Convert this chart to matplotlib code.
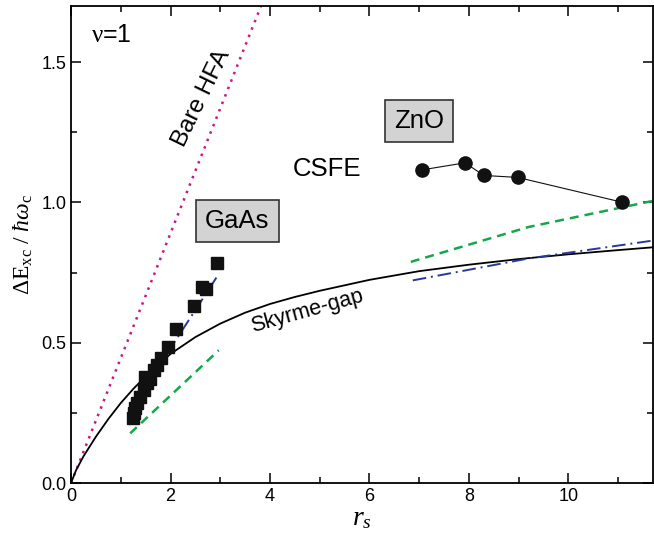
import matplotlib
matplotlib.use("Agg")
import matplotlib.pyplot as plt

plt.rcParams['font.family'] = ['Liberation Sans', 'DejaVu Sans']
plt.rcParams['mathtext.fontset'] = 'custom'
plt.rcParams['mathtext.rm'] = 'Liberation Serif'
plt.rcParams['mathtext.it'] = 'Liberation Serif:italic'

# bare Hartree-Fock line (straight)
hfa_x = [0.0, 4.0]
hfa_y = [0.0, 1.78]

# Skyrme-gap curve
sky_x = [0, 0.1, 0.25, 0.5, 0.75, 1.0, 1.25, 1.5, 2.0, 2.5, 3.0, 3.5, 4.0, 4.5,
         5.0, 6.0, 7.0, 8.0, 9.0, 10.0, 11.0, 11.7]
sky_y = [0, 0.045, 0.095, 0.165, 0.228, 0.285, 0.335, 0.38, 0.46, 0.52, 0.568,
         0.607, 0.638, 0.663, 0.685, 0.724, 0.755, 0.778, 0.798, 0.815, 0.83, 0.84]

# GaAs measurements
gaas_x = [1.24, 1.26, 1.29, 1.32, 1.39, 1.46, 1.53, 1.49, 1.58, 1.66, 1.73,
          1.81, 1.94, 2.12, 2.47, 2.63, 2.72, 2.94]
gaas_y = [0.23, 0.248, 0.266, 0.284, 0.307, 0.331, 0.355, 0.378, 0.372, 0.402,
          0.42, 0.447, 0.485, 0.548, 0.63, 0.699, 0.693, 0.785]

# ZnO measurements
zno_x = [7.06, 7.92, 8.30, 8.98, 11.07]
zno_y = [1.116, 1.141, 1.096, 1.089, 1.001]

# theory lines near each material
blue_gaas_x = [1.19, 2.0, 2.97]
blue_gaas_y = [0.23, 0.48, 0.745]
green_gaas_x = [1.19, 2.97]
green_gaas_y = [0.177, 0.473]
blue_zno_x = [6.87, 9.19, 11.74]
blue_zno_y = [0.722, 0.80, 0.865]
green_zno_x = [6.83, 9.19, 11.74]
green_zno_y = [0.788, 0.912, 1.007]

magenta = '#c8168c'
green = '#14a84a'
blue = '#28389a'

fig = plt.figure(figsize=(6.54, 5.33), dpi=100)
ax = fig.add_axes([0.1086, 0.0938, 0.8899, 0.8950])

ax.plot(hfa_x, hfa_y, color=magenta, lw=1.8, dashes=(1, 2.2))
ax.plot(sky_x, sky_y, color='black', lw=1.3)
ax.plot(blue_gaas_x, blue_gaas_y, color=blue, lw=1.4, dashes=(7, 2.5, 1, 2.5))
ax.plot(blue_zno_x, blue_zno_y, color=blue, lw=1.4, dashes=(7, 2.5, 1, 2.5))
ax.plot(green_gaas_x, green_gaas_y, color=green, lw=1.8, dashes=(3.6, 2.4))
ax.plot(green_zno_x, green_zno_y, color=green, lw=1.8, dashes=(3.6, 2.4))
ax.plot(gaas_x, gaas_y, 's', color='#111111', ms=8, ls='none')
ax.plot(zno_x, zno_y, 'o-', color='#111111', ms=9.5, lw=0.8)

ax.set_xlim(0, 11.7)
ax.set_ylim(0, 1.7)
ax.set_xticks([0, 2, 4, 6, 8, 10])
ax.set_xticks([1, 3, 5, 7, 9, 11], minor=True)
ax.set_yticks([0.0, 0.5, 1.0, 1.5])
ax.set_yticks([0.25, 0.75, 1.25], minor=True)
ax.set_yticklabels(['0.0', '0.5', '1.0', '1.5'])
ax.tick_params(which='major', direction='in', length=7, width=1.1, labelsize=13)
ax.tick_params(which='minor', direction='in', length=4.3, width=1.1)
ax.tick_params(which='both', top=True, right=True)
for s in ax.spines.values():
    s.set_linewidth(1.3)

ax.set_xlabel(r'$r_s$', fontsize=20, labelpad=0)
ax.set_ylabel(r'$\Delta\mathrm{E}_{\mathrm{xc}}\ /\ \hbar\omega_{\mathrm{c}}$', fontsize=17, labelpad=4)

ax.text(0.80, 1.597, r'$\mathrm{\nu}$=1', fontsize=18, ha='center', va='center')
ax.text(2.62, 1.37, 'Bare HFA', fontsize=17.5, rotation=64, ha='center', va='center',
        rotation_mode='anchor')
ax.text(4.75, 0.613, 'Skyrme-gap', fontsize=15.5, rotation=15.6, ha='center', va='center',
        rotation_mode='anchor')
ax.text(5.14, 1.119, 'CSFE', fontsize=18.5, ha='center', va='center')
box = dict(boxstyle='square,pad=0.35', facecolor='#d3d3d3', edgecolor='#333333', lw=1.2)
ax.text(3.345, 0.935, 'GaAs', fontsize=18.5, ha='center', va='center', bbox=box)
ax.text(7.0, 1.289, 'ZnO', fontsize=18.5, ha='center', va='center', bbox=box)

fig.savefig('out.png', dpi=100)
